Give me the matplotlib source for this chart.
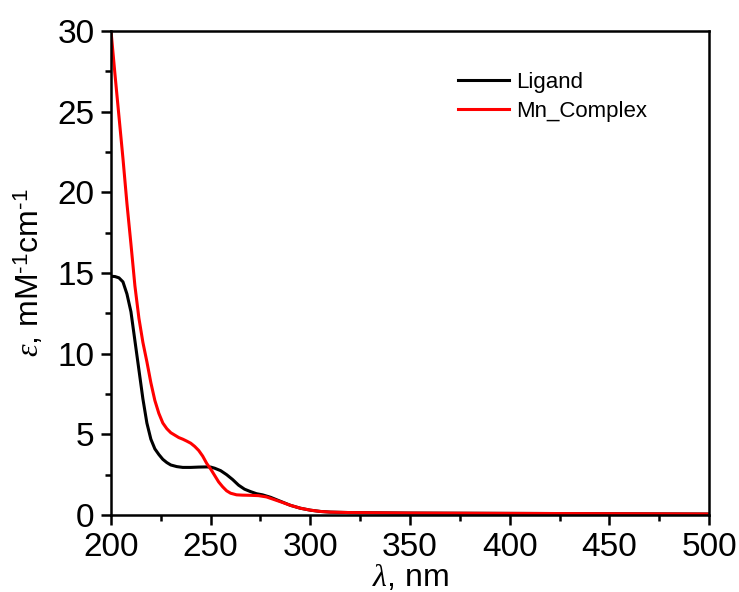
# UV-Vis spectra: ligand vs Mn complex

import numpy as np
import matplotlib.pyplot as plt
from matplotlib.ticker import MultipleLocator

plt.rcParams['font.family'] = ['Liberation Sans', 'DejaVu Sans']
plt.rcParams['mathtext.fontset'] = 'custom'
plt.rcParams['mathtext.rm'] = 'Liberation Sans'
plt.rcParams['mathtext.it'] = 'Liberation Serif:italic'

# data (nm, mM^-1 cm^-1)
wl_lig = [200, 202, 204, 206, 208, 210, 212, 214, 216, 218, 220, 222, 224, 226, 228,
          230, 233, 236, 240, 244, 248, 250, 252, 255, 258, 261, 264, 267, 270, 273,
          276, 280, 285, 290, 295, 300, 305, 310, 320, 350, 400, 450, 500]
eps_lig = [14.8, 14.78, 14.7, 14.45, 13.7, 12.6, 10.8, 9.0, 7.2, 5.7, 4.7, 4.1, 3.75, 3.45, 3.25,
           3.1, 3.0, 2.95, 2.95, 2.97, 2.98, 2.97, 2.9, 2.75, 2.5, 2.2, 1.85, 1.6, 1.45, 1.32,
           1.25, 1.1, 0.85, 0.6, 0.42, 0.3, 0.22, 0.18, 0.15, 0.12, 0.1, 0.08, 0.06]

wl_mn = [200, 202, 204, 206, 208, 210, 212, 214, 216, 218, 220, 222, 224, 226, 228,
         230, 232, 234, 236, 238, 240, 242, 244, 246, 248, 250, 252, 254, 256, 258,
         260, 263, 266, 270, 274, 278, 282, 286, 290, 295, 300, 305, 310, 320, 350,
         400, 450, 500]
eps_mn = [30.0, 27.3, 24.7, 22.1, 19.3, 16.8, 14.2, 12.2, 10.7, 9.5, 8.2, 7.1, 6.3, 5.7, 5.35,
          5.1, 4.95, 4.8, 4.7, 4.58, 4.45, 4.25, 4.0, 3.65, 3.2, 2.85, 2.45, 2.05, 1.75, 1.5,
          1.35, 1.25, 1.23, 1.22, 1.2, 1.12, 0.95, 0.78, 0.6, 0.42, 0.3, 0.22, 0.18, 0.15, 0.12,
          0.1, 0.08, 0.06]

fig = plt.figure(figsize=(7.39, 5.92), dpi=100)
ax = fig.add_axes([111/739, 1-515/592, 598/739, 484/592])

ax.plot(wl_lig, eps_lig, color='black', lw=2.2, label='Ligand')
ax.plot(wl_mn, eps_mn, color='red', lw=2.2, label='Mn_Complex')

ax.set_xlim(200, 500)
ax.set_ylim(0, 30)
ax.xaxis.set_major_locator(MultipleLocator(50))
ax.xaxis.set_minor_locator(MultipleLocator(25))
ax.yaxis.set_major_locator(MultipleLocator(5))
ax.yaxis.set_minor_locator(MultipleLocator(2.5))
ax.tick_params(which='both', direction='out', top=False, right=False, width=1.8, labelsize=24)
ax.tick_params(which='major', length=7, pad=5)
ax.tick_params(which='minor', length=4)
for s in ax.spines.values():
    s.set_linewidth(1.8)

ax.set_xlabel(r'$\lambda$, nm', fontsize=23, labelpad=0)
ax.set_ylabel('$\\varepsilon$, mM$^{\u20101}$cm$^{\u20101}$', fontsize=23, labelpad=8)

ax.legend(loc='upper left', bbox_to_anchor=(0.562, 0.938), frameon=False, fontsize=16,
          handlelength=2.3, handletextpad=0.3, labelspacing=0.35, borderpad=0)

fig.savefig('out.png', dpi=100)
